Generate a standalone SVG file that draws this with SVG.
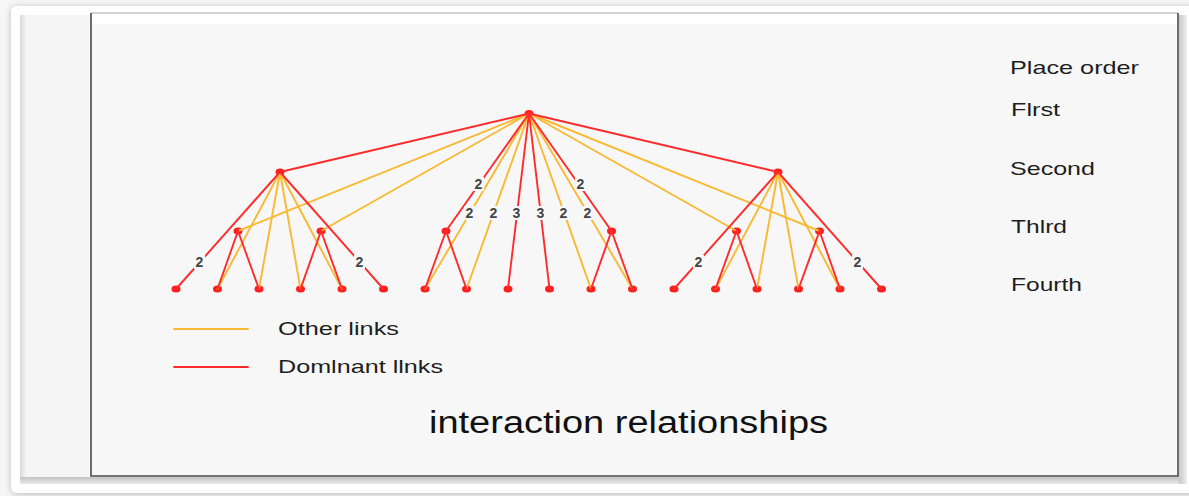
<svg xmlns="http://www.w3.org/2000/svg" width="1189" height="496" viewBox="0 0 1189 496">
  <defs>
    <filter id="softShadow" x="-5%" y="-5%" width="110%" height="110%">
      <feGaussianBlur in="SourceAlpha" stdDeviation="3"/>
      <feOffset dx="0" dy="1" result="b"/>
      <feFlood flood-color="#000" flood-opacity="0.25"/>
      <feComposite in2="b" operator="in"/>
      <feMerge><feMergeNode/><feMergeNode in="SourceGraphic"/></feMerge>
    </filter>
    <linearGradient id="bevelLeft" x1="0" x2="1" y1="0" y2="0">
      <stop offset="0" stop-color="#d8d8d8"/>
      <stop offset="1" stop-color="#f4f4f4"/>
    </linearGradient>
    <linearGradient id="bevelBottom" x1="0" x2="0" y1="0" y2="1">
      <stop offset="0" stop-color="#c4c4c4"/>
      <stop offset="1" stop-color="#e8e8e8"/>
    </linearGradient>
    <linearGradient id="bevelRight" x1="0" x2="1" y1="0" y2="0">
      <stop offset="0" stop-color="#c8c8c8"/>
      <stop offset="1" stop-color="#eeeeee"/>
    </linearGradient>
  </defs>
  <style>
    .dom { stroke: #ff2b2b; stroke-width: 1.9; fill: none; stroke-linecap: round; }
    .oth { stroke: #f9b932; stroke-width: 1.9; fill: none; stroke-linecap: round; }
    .node { fill: #ff1e1e; }
    .lbl { font-family: "Liberation Sans", Arial, sans-serif; font-size: 14px; font-weight: bold; fill: #444; text-anchor: middle; }
    .gap { fill: #f7f7f7; }
    .lvl { font-family: "Liberation Sans", Arial, sans-serif; font-size: 19px; fill: #1e1e1e; }
    .leg { font-family: "Liberation Sans", Arial, sans-serif; font-size: 19px; fill: #1e1e1e; }
    .title { font-family: "Liberation Sans", Arial, sans-serif; font-size: 31px; fill: #111; }
  </style>

  <!-- page and framed panel -->
  <rect x="0" y="0" width="1189" height="496" fill="#f6f6f6"/>
  <rect x="11" y="6" width="1195" height="487" rx="6" fill="#ffffff" filter="url(#softShadow)"/>
  <rect x="20" y="15" width="1167" height="469" fill="#f5f5f5"/>
  <rect x="20" y="15" width="6" height="469" fill="url(#bevelLeft)"/>
  <rect x="20" y="477" width="1167" height="7" fill="url(#bevelBottom)"/>
  <rect x="1179" y="15" width="8" height="469" fill="url(#bevelRight)"/>
  <rect x="91" y="13" width="1087" height="463" fill="#f7f7f7"/>
  <rect x="92" y="14" width="1085" height="10" fill="#ffffff"/>
  <line x1="91" y1="13" x2="1178" y2="13" stroke="#a8a8a8" stroke-width="1"/>
  <polyline points="91,13 91,476 1178,476 1178,13" fill="none" stroke="#4a4a4a" stroke-width="1.6"/>

  <!-- tree nodes -->
  <g id="root"><ellipse class="node" cx="529" cy="113.5" rx="4.5" ry="3.6"/></g>
  <g id="s1"><ellipse class="node" cx="280" cy="172" rx="4.5" ry="3.6"/></g>
  <g id="s2"><ellipse class="node" cx="778" cy="172" rx="4.5" ry="3.6"/></g>
  <g id="t1"><ellipse class="node" cx="238" cy="231" rx="4.5" ry="3.6"/></g>
  <g id="t2"><ellipse class="node" cx="321" cy="231" rx="4.5" ry="3.6"/></g>
  <g id="t3"><ellipse class="node" cx="446" cy="231" rx="4.5" ry="3.6"/></g>
  <g id="t4"><ellipse class="node" cx="611.5" cy="231" rx="4.5" ry="3.6"/></g>
  <g id="t5"><ellipse class="node" cx="736.5" cy="231" rx="4.5" ry="3.6"/></g>
  <g id="t6"><ellipse class="node" cx="819.5" cy="231" rx="4.5" ry="3.6"/></g>
  <g id="f0"><ellipse class="node" cx="176" cy="289" rx="4.5" ry="3.6"/></g>
  <g id="f1"><ellipse class="node" cx="217.5" cy="289" rx="4.5" ry="3.6"/></g>
  <g id="f2"><ellipse class="node" cx="259" cy="289" rx="4.5" ry="3.6"/></g>
  <g id="f3"><ellipse class="node" cx="300.5" cy="289" rx="4.5" ry="3.6"/></g>
  <g id="f4"><ellipse class="node" cx="342" cy="289" rx="4.5" ry="3.6"/></g>
  <g id="f5"><ellipse class="node" cx="383.5" cy="289" rx="4.5" ry="3.6"/></g>
  <g id="f6"><ellipse class="node" cx="425" cy="289" rx="4.5" ry="3.6"/></g>
  <g id="f7"><ellipse class="node" cx="466.5" cy="289" rx="4.5" ry="3.6"/></g>
  <g id="f8"><ellipse class="node" cx="508" cy="289" rx="4.5" ry="3.6"/></g>
  <g id="f9"><ellipse class="node" cx="549.5" cy="289" rx="4.5" ry="3.6"/></g>
  <g id="f10"><ellipse class="node" cx="591" cy="289" rx="4.5" ry="3.6"/></g>
  <g id="f11"><ellipse class="node" cx="632.5" cy="289" rx="4.5" ry="3.6"/></g>
  <g id="f12"><ellipse class="node" cx="674" cy="289" rx="4.5" ry="3.6"/></g>
  <g id="f13"><ellipse class="node" cx="715.5" cy="289" rx="4.5" ry="3.6"/></g>
  <g id="f14"><ellipse class="node" cx="757" cy="289" rx="4.5" ry="3.6"/></g>
  <g id="f15"><ellipse class="node" cx="798.5" cy="289" rx="4.5" ry="3.6"/></g>
  <g id="f16"><ellipse class="node" cx="840" cy="289" rx="4.5" ry="3.6"/></g>
  <g id="f17"><ellipse class="node" cx="881.5" cy="289" rx="4.5" ry="3.6"/></g>

  <!-- links between levels -->
  <g id="connectors">
    <!-- other links -->
    <line class="oth" x1="529" y1="113.5" x2="238" y2="231"/>
    <line class="oth" x1="529" y1="113.5" x2="321" y2="231"/>
    <line class="oth" x1="280" y1="172" x2="217.5" y2="289"/>
    <line class="oth" x1="280" y1="172" x2="259" y2="289"/>
    <line class="oth" x1="280" y1="172" x2="300.5" y2="289"/>
    <line class="oth" x1="280" y1="172" x2="342" y2="289"/>
    <line class="oth" x1="529" y1="113.5" x2="425" y2="289"/>
    <line class="oth" x1="529" y1="113.5" x2="466.5" y2="289"/>
    <line class="oth" x1="529" y1="113.5" x2="591" y2="289"/>
    <line class="oth" x1="529" y1="113.5" x2="632.5" y2="289"/>
    <line class="oth" x1="529" y1="113.5" x2="736.5" y2="231"/>
    <line class="oth" x1="529" y1="113.5" x2="819.5" y2="231"/>
    <line class="oth" x1="778" y1="172" x2="715.5" y2="289"/>
    <line class="oth" x1="778" y1="172" x2="757" y2="289"/>
    <line class="oth" x1="778" y1="172" x2="798.5" y2="289"/>
    <line class="oth" x1="778" y1="172" x2="840" y2="289"/>
    <!-- dominant links -->
    <line class="dom" x1="529" y1="113.5" x2="280" y2="172"/>
    <line class="dom" x1="529" y1="113.5" x2="778" y2="172"/>
    <line class="dom" x1="280" y1="172" x2="176" y2="289"/>
    <line class="dom" x1="280" y1="172" x2="383.5" y2="289"/>
    <line class="dom" x1="238" y1="231" x2="217.5" y2="289"/>
    <line class="dom" x1="238" y1="231" x2="259" y2="289"/>
    <line class="dom" x1="321" y1="231" x2="300.5" y2="289"/>
    <line class="dom" x1="321" y1="231" x2="342" y2="289"/>
    <line class="dom" x1="529" y1="113.5" x2="446" y2="231"/>
    <line class="dom" x1="529" y1="113.5" x2="611.5" y2="231"/>
    <line class="dom" x1="529" y1="113.5" x2="508" y2="289"/>
    <line class="dom" x1="529" y1="113.5" x2="549.5" y2="289"/>
    <line class="dom" x1="446" y1="231" x2="425" y2="289"/>
    <line class="dom" x1="446" y1="231" x2="466.5" y2="289"/>
    <line class="dom" x1="611.5" y1="231" x2="591" y2="289"/>
    <line class="dom" x1="611.5" y1="231" x2="632.5" y2="289"/>
    <line class="dom" x1="778" y1="172" x2="674" y2="289"/>
    <line class="dom" x1="778" y1="172" x2="881.5" y2="289"/>
    <line class="dom" x1="736.5" y1="231" x2="715.5" y2="289"/>
    <line class="dom" x1="736.5" y1="231" x2="757" y2="289"/>
    <line class="dom" x1="819.5" y1="231" x2="798.5" y2="289"/>
    <line class="dom" x1="819.5" y1="231" x2="840" y2="289"/>
    <!-- link weights -->
    <rect class="gap" x="194" y="255" width="11" height="14"/><text class="lbl" x="199.5" y="267">2</text>
    <rect class="gap" x="354" y="255" width="11" height="14"/><text class="lbl" x="359.5" y="267">2</text>
    <rect class="gap" x="473" y="177" width="11" height="14"/><text class="lbl" x="478.5" y="189">2</text>
    <rect class="gap" x="575" y="177" width="11" height="14"/><text class="lbl" x="580.5" y="189">2</text>
    <rect class="gap" x="464" y="206" width="11" height="14"/><text class="lbl" x="469.5" y="218">2</text>
    <rect class="gap" x="488" y="206" width="11" height="14"/><text class="lbl" x="493.5" y="218">2</text>
    <rect class="gap" x="511" y="206" width="11" height="14"/><text class="lbl" x="516.5" y="218">3</text>
    <rect class="gap" x="535" y="206" width="11" height="14"/><text class="lbl" x="540.5" y="218">3</text>
    <rect class="gap" x="558" y="206" width="11" height="14"/><text class="lbl" x="563.5" y="218">2</text>
    <rect class="gap" x="582" y="206" width="11" height="14"/><text class="lbl" x="587.5" y="218">2</text>
    <rect class="gap" x="693" y="255" width="11" height="14"/><text class="lbl" x="698.5" y="267">2</text>
    <rect class="gap" x="852" y="255" width="11" height="14"/><text class="lbl" x="857.5" y="267">2</text>
  </g>

  <!-- level captions -->
  <text class="lvl" x="1010" y="74" textLength="129" lengthAdjust="spacingAndGlyphs">Place order</text>
  <text class="lvl" x="1011" y="116" textLength="49" lengthAdjust="spacingAndGlyphs">Flrst</text>
  <text class="lvl" x="1010" y="175" textLength="85" lengthAdjust="spacingAndGlyphs">Second</text>
  <text class="lvl" x="1011" y="233" textLength="56" lengthAdjust="spacingAndGlyphs">Thlrd</text>
  <text class="lvl" x="1011" y="291" textLength="71" lengthAdjust="spacingAndGlyphs">Fourth</text>

  <!-- legend -->
  <line class="oth" x1="174" y1="329" x2="248" y2="329" stroke-linecap="butt"/>
  <text class="leg" x="278" y="335" textLength="121" lengthAdjust="spacingAndGlyphs">Other links</text>
  <line class="dom" x1="174" y1="367" x2="248" y2="367" stroke-linecap="butt"/>
  <text class="leg" x="278" y="373" textLength="165" lengthAdjust="spacingAndGlyphs">Domlnant llnks</text>

  <text class="title" x="429" y="433" textLength="399" lengthAdjust="spacingAndGlyphs">interaction relationships</text>
</svg>
